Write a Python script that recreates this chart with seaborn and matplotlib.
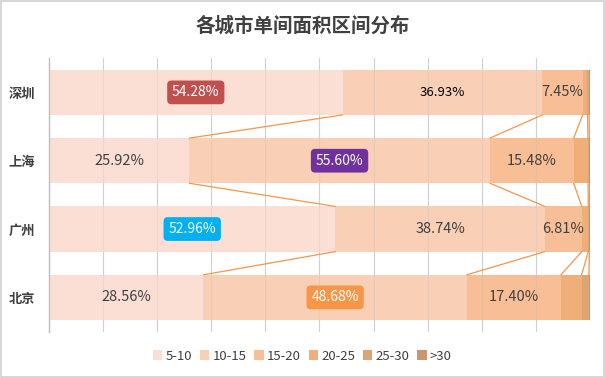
import numpy as np
import pandas as pd
import matplotlib.pyplot as plt
import seaborn as sns
from matplotlib.patches import Rectangle, Patch

# 数据
cities = ["深圳", "上海", "广州", "北京"]
bins = ["5-10", "10-15", "15-20", "20-25", "25-30", ">30"]
shares = {
    "5-10":  [54.28, 25.92, 52.96, 28.56],
    "10-15": [36.93, 55.60, 38.74, 48.68],
    "15-20": [7.45, 15.48, 6.81, 17.40],
    "20-25": [0.90, 2.65, 1.20, 3.83],
    "25-30": [0.30, 0.25, 0.20, 1.35],
    ">30":   [0.14, 0.10, 0.09, 0.18],
}
colors = ["#fbdfd4", "#f9cfb6", "#f8bf96", "#f0ae79", "#dea473", "#c9966e"]

# 需要高亮的标签 (城市, 区间) -> 背景色
highlight = {
    ("深圳", "5-10"): "#c0504d",
    ("上海", "10-15"): "#7030a0",
    ("广州", "5-10"): "#00b0f0",
    ("北京", "10-15"): "#f79646",
}

sns.set_style("white")
plt.rcParams["font.family"] = ["Noto Sans CJK SC", "DejaVu Sans"]

df = pd.DataFrame(shares, index=cities)
cum = df.cumsum(axis=1)

fig = plt.figure(figsize=(6.05, 3.78), dpi=100)
ax = fig.add_axes([0.081, 0.123, 0.894, 0.723])

# 堆叠条形图：从最长的累计值开始画
bar_h = 0.66
for b, c in zip(reversed(bins), reversed(colors)):
    d = pd.DataFrame({"city": cities, "value": cum[b].values})
    sns.barplot(data=d, x="value", y="city", color=c, orient="h",
                width=bar_h, saturation=1, linewidth=0, ax=ax, zorder=2)

ax.set_xlim(0, 100)
ax.set_ylim(len(cities) - 0.5, -0.5)

# 网格线（透过条形隐约可见）
for gx in np.arange(10, 101, 10):
    ax.axvline(gx, color="#b0b0b0", lw=0.8, alpha=0.18, zorder=2.5)

# 连接线
line_c = "#f7964a"
for i in range(len(cities) - 1):
    for b in bins:
        x0 = cum.loc[cities[i], b]
        x1 = cum.loc[cities[i + 1], b]
        ax.plot([x0, x1], [i + bar_h / 2, i + 1 - bar_h / 2],
                color=line_c, lw=0.9, zorder=3)

# 数值标签
for i, city in enumerate(cities):
    start = 0
    for b in bins:
        v = df.loc[city, b]
        if v > 5:
            xc = start + v / 2
            key = (city, b)
            if key in highlight:
                ax.text(xc, i, f"{v:.2f}%", ha="center", va="center",
                        fontsize=10, color="white", zorder=5,
                        bbox=dict(boxstyle="round,pad=0.35,rounding_size=0.3",
                                  fc=highlight[key], ec="none"))
            elif city == "深圳" and b == "10-15":
                ax.text(xc, i, f"{v:.2f}%", ha="center", va="center",
                        fontsize=9.5, color="black", zorder=5)
            else:
                ax.text(xc, i, f"{v:.2f}%", ha="center", va="center",
                        fontsize=10.5, color="#404040", zorder=5)
        start += v

# 坐标轴样式
ax.set_xticks(np.arange(0, 101, 10))
ax.set_xticklabels([])
ax.grid(axis="x", color="#d9d9d9", lw=0.8, zorder=0)
ax.set_axisbelow(True)
ax.tick_params(axis="x", length=4, color="#d9d9d9", width=0.8)
ax.tick_params(axis="y", length=0, pad=10)
for lab in ax.get_yticklabels():
    lab.set_fontweight("bold")
    lab.set_fontsize(9.5)
    lab.set_color("#404040")
ax.set_xlabel("")
ax.set_ylabel("")
for s in ["top", "right", "bottom"]:
    ax.spines[s].set_visible(False)
ax.spines["left"].set_color("#bfbfbf")
ax.spines["left"].set_linewidth(1)

fig.text(0.5, 0.932, "各城市单间面积区间分布", ha="center", va="center",
         fontsize=14, fontweight="bold", color="#404040")

handles = [Patch(facecolor=c, edgecolor="none", label=b) for b, c in zip(bins, colors)]
fig.legend(handles=handles, loc="center", bbox_to_anchor=(0.5, 0.058), ncol=6,
           frameon=False, fontsize=9.5, handlelength=0.7, handleheight=0.7,
           handletextpad=0.25, columnspacing=0.6, labelcolor="#404040")

fig.patches.append(Rectangle((0.001, 0.002), 0.997, 0.996, transform=fig.transFigure,
                             fill=False, ec="#d0d0d0", lw=1.2))

plt.savefig("out.png", dpi=100)
plt.close()
